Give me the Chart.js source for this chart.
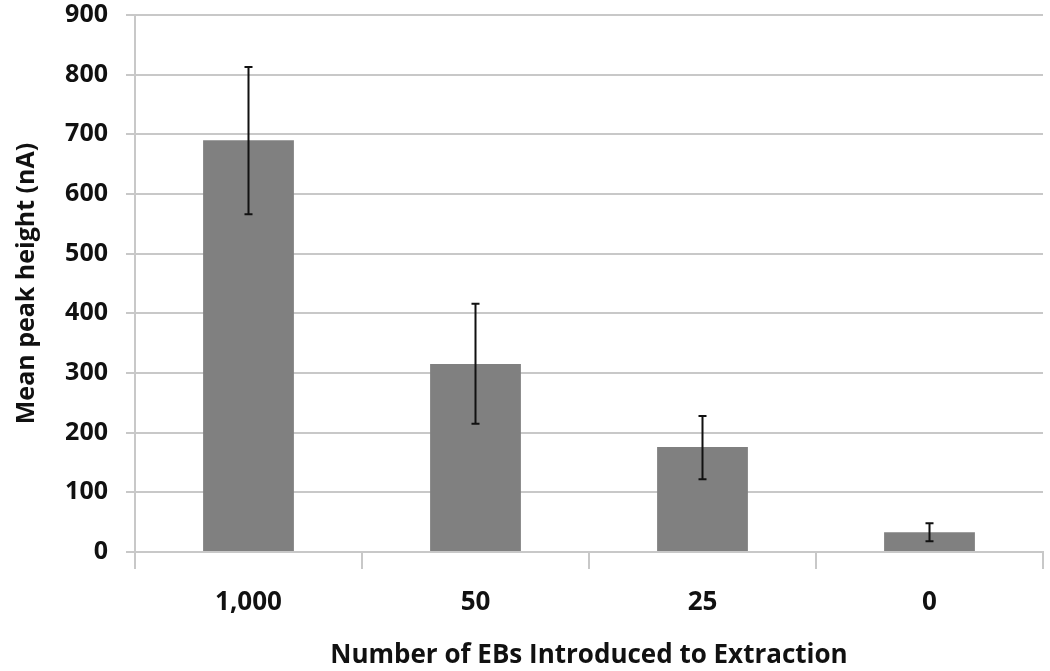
<!DOCTYPE html>
<html>
<head>
<meta charset="utf-8">
<script src="https://cdn.jsdelivr.net/npm/chart.js@4"></script>
<style>
  html, body { margin: 0; padding: 0; background: #fff; }
  #wrap { width: 1050px; height: 671px; }
</style>
</head>
<body>
<div id="wrap"><canvas id="chart"></canvas></div>
<script>
const categories = ["1,000", "50", "25", "0"];
const meanPeak = [690, 315, 176, 33];
const errLow = [566, 215, 122, 18];
const errHigh = [813, 416, 228, 48];

const FONT = "'Open Sans', 'DejaVu Sans', sans-serif";

// draws the error bars using the chart scales
const errorBars = {
  id: 'errorBars',
  afterDatasetsDraw(chart) {
    const ctx = chart.ctx;
    const meta = chart.getDatasetMeta(0);
    const y = chart.scales.y;
    ctx.save();
    ctx.strokeStyle = '#111';
    ctx.lineWidth = 2;
    meta.data.forEach(function (bar, i) {
      const x = bar.x;
      const top = y.getPixelForValue(errHigh[i]);
      const bot = y.getPixelForValue(errLow[i]);
      ctx.beginPath();
      ctx.moveTo(x, top); ctx.lineTo(x, bot);
      ctx.moveTo(x - 4, top); ctx.lineTo(x + 4, top);
      ctx.moveTo(x - 4, bot); ctx.lineTo(x + 4, bot);
      ctx.stroke();
    });
    ctx.restore();
  }
};

new Chart(document.getElementById("chart"), {
  type: 'bar',
  data: {
    labels: categories,
    datasets: [{
      label: "Mean peak height",
      data: meanPeak,
      backgroundColor: "#808080",
      categoryPercentage: 1.0,
      barPercentage: 0.4
    }]
  },
  options: {
    responsive: true,
    maintainAspectRatio: false,
    animation: false,
    layout: { padding: { top: 15, right: 7, left: 0, bottom: 0 } },
    plugins: {
      legend: { display: false },
      tooltip: { enabled: false }
    },
    scales: {
      x: {
        offset: true,
        afterFit(scale) { scale.height = 119; },
        grid: {
          offset: true,
          drawOnChartArea: false,
          tickLength: 17,
          color: '#c8c8c8',
          lineWidth: 2
        },
        border: { color: '#c8c8c8', width: 2 },
        ticks: {
          color: '#111',
          padding: 18,
          font: { family: FONT, size: 26, weight: 'bold' }
        },
        title: {
          display: true,
          text: 'Number of EBs Introduced to Extraction',
          color: '#111',
          padding: { top: 0, bottom: 0 },
          font: { family: FONT, size: 26, weight: 'bold' }
        }
      },
      y: {
        min: 0,
        max: 900,
        afterFit(scale) {
          scale.width = 135;
          scale.paddingTop = 0;
          scale.paddingBottom = 0;
        },
        grid: { color: '#c8c8c8', lineWidth: 2, tickLength: 9 },
        border: { color: '#c8c8c8', width: 2 },
        ticks: {
          stepSize: 100,
          color: '#111',
          padding: 18,
          font: { family: FONT, size: 25, weight: 'bold' }
        },
        title: {
          display: true,
          text: 'Mean peak height (nA)',
          color: '#111',
          padding: { top: 12, bottom: 0 },
          font: { family: FONT, size: 25, weight: 'bold' }
        }
      }
    }
  },
  plugins: [errorBars]
});
</script>
</body>
</html>
